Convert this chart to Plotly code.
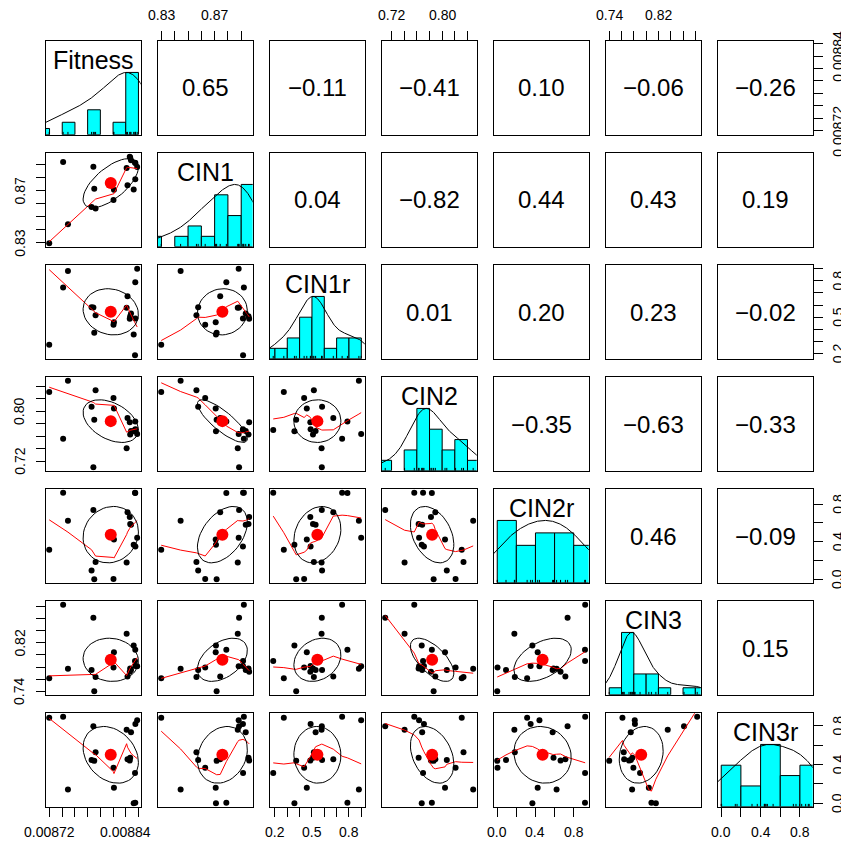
import numpy as np
import plotly.graph_objects as go

# ---------------- data ----------------
var_names = ["Fitness", "CIN1", "CIN1r", "CIN2", "CIN2r", "CIN3", "CIN3r"]

fitness = [0.0087414, 0.0087195, 0.0087490, 0.0087890, 0.0087904, 0.0087925, 0.0088207,
           0.0088214, 0.0088414, 0.0088428, 0.0088463, 0.0088470, 0.0088483, 0.0088580,
           0.0088552, 0.0088525, 0.0088550, 0.0088546, 0.0087862]
cin1 = [0.8920, 0.8298, 0.8444, 0.8884, 0.8715, 0.8563, 0.8629, 0.8708, 0.8874, 0.8742,
        0.8960, 0.8955, 0.8934, 0.8881, 0.8913, 0.8710, 0.8788, 0.8914, 0.8576]
cin1r = [0.7445, 0.2719, 0.8805, 0.5798, 0.3722, 0.5154, 0.4366, 0.4581, 0.5780, 0.6729,
         0.4867, 0.5082, 0.5297, 0.8990, 0.4890, 0.3578, 0.7874, 0.1860, 0.5820]
cin2 = [0.7559, 0.8309, 0.8490, 0.7100, 0.7865, 0.8337, 0.8212, 0.8045, 0.7406, 0.7892,
        0.7823, 0.7628, 0.7684, 0.7635, 0.7712, 0.7677, 0.7837, 0.7698, 0.8073]
cin2r = [0.920, 0.3128, 0.621, 0.736, 0.000, 0.184, 0.003, 0.4232, 0.1794, 0.713,
         0.6624, 0.5888, 0.5796, 0.4416, 0.3496, 0.368, 0.918, 0.919, 0.092]
cin3 = [0.8830, 0.7615, 0.7772, 0.8616, 0.7400, 0.7636, 0.7793, 0.8044, 0.8351, 0.7643,
        0.7722, 0.7775, 0.7750, 0.7815, 0.7818, 0.8158, 0.8086, 0.7901, 0.7752]
cin3r = [0.894, 0.885, 0.143, 0.7957, 0.438, 0.5275, 0.3665, 0.1609, 0.7599, 0.4559,
         0.441, 0.4694, 0.7331, 0.8582, 0.818, 0.000, 0.004, 0.3129, 0.447]

# correlations printed in the upper panels (row variable, column variable)
cor_text = {
    (0, 1): "0.65", (0, 2): "−0.11", (0, 3): "−0.41", (0, 4): "0.10", (0, 5): "−0.06", (0, 6): "−0.26",
    (1, 2): "0.04", (1, 3): "−0.82", (1, 4): "0.44", (1, 5): "0.43", (1, 6): "0.19",
    (2, 3): "0.01", (2, 4): "0.20", (2, 5): "0.23", (2, 6): "−0.02",
    (3, 4): "−0.35", (3, 5): "−0.63", (3, 6): "−0.33",
    (4, 5): "0.46", (4, 6): "−0.09",
    (5, 6): "0.15",
}

# axis ticks and labels per variable
tick_values = {
    0: [0.00872, 0.00874, 0.00876, 0.00878, 0.00880, 0.00882, 0.00884, 0.00886],
    1: [0.83, 0.84, 0.85, 0.86, 0.87, 0.88, 0.89, 0.90],
    2: [0.2, 0.3, 0.4, 0.5, 0.6, 0.7, 0.8, 0.9],
    3: [0.72, 0.74, 0.76, 0.78, 0.80, 0.82, 0.84],
    4: [0.0, 0.2, 0.4, 0.6, 0.8],
    5: [0.74, 0.76, 0.78, 0.80, 0.82, 0.84, 0.86, 0.88],
    6: [0.0, 0.2, 0.4, 0.6, 0.8],
}
tick_labels = {
    0: ["0.00872", "", "", "", "", "", "0.00884", ""],
    1: ["0.83", "", "", "", "0.87", "", "", ""],
    2: ["0.2", "", "", "0.5", "", "", "0.8", ""],
    3: ["0.72", "", "", "", "0.80", "", ""],
    4: ["0.0", "", "0.4", "", "0.8"],
    5: ["0.74", "", "", "", "0.82", "", "", ""],
    6: ["0.0", "", "0.4", "", "0.8"],
}

data = [np.array(v, dtype=float) for v in (fitness, cin1, cin1r, cin2, cin2r, cin3, cin3r)]
nv = len(data)

# ---------------- helpers (R-like computations) ----------------
def usr_range(x):
    lo, hi = float(np.min(x)), float(np.max(x))
    r = hi - lo
    return lo - 0.04 * r, hi + 0.04 * r


def pretty_unit(lo, hi, n=6):
    cell = (hi - lo) / n
    U = 10 ** np.floor(np.log10(cell))
    unit = U
    if 2 * U - cell < 1.5 * (cell - unit):
        unit = 2 * U
        if 5 * U - cell < 2.75 * (cell - unit):
            unit = 5 * U
            if 10 * U - cell < 1.5 * (cell - unit):
                unit = 10 * U
    return unit


def hist_counts(x):
    lo, hi = float(np.min(x)), float(np.max(x))
    nclass = int(np.ceil(np.log2(len(x)) + 1))
    unit = pretty_unit(lo, hi, nclass)
    s = np.floor(lo / unit + 1e-7)
    e = np.ceil(hi / unit - 1e-7)
    breaks = np.arange(s, e + 1) * unit
    fuzz = 1e-7 * unit
    fb = breaks + fuzz
    fb[0] = breaks[0] - fuzz
    idx = np.searchsorted(fb, x, side="left") - 1
    counts = np.bincount(idx, minlength=len(breaks) - 1)[: len(breaks) - 1]
    return breaks, counts


def density_curve(x):
    n = len(x)
    q1, q3 = np.percentile(x, [25, 75])
    bw = 1.06 * min(np.std(x, ddof=1), (q3 - q1) / 1.34) * n ** (-0.2)
    bw *= 1.2
    grid = np.linspace(x.min() - 3 * bw, x.max() + 3 * bw, 512)
    dens = np.exp(-0.5 * ((grid[:, None] - x[None, :]) / bw) ** 2).sum(axis=1)
    return grid, dens / dens.max()


def _lowest(x, y, n, xs, nleft, nright, userw, rw):
    w = np.zeros(n)
    rng = x[n - 1] - x[0]
    h = max(xs - x[nleft], x[nright] - xs)
    h9, h1 = 0.999 * h, 0.001 * h
    a = 0.0
    j = nleft
    while j < n:
        r = abs(x[j] - xs)
        if r <= h9:
            w[j] = 1.0 if r <= h1 else (1 - (r / h) ** 3) ** 3
            if userw:
                w[j] *= rw[j]
            a += w[j]
        elif x[j] > xs:
            break
        j += 1
    nrt = j - 1
    if a <= 0:
        return 0.0, False
    w[nleft:nrt + 1] /= a
    if h > 0:
        a = np.sum(w[nleft:nrt + 1] * x[nleft:nrt + 1])
        b = xs - a
        c = np.sum(w[nleft:nrt + 1] * (x[nleft:nrt + 1] - a) ** 2)
        if np.sqrt(c) > 0.001 * rng:
            b /= c
            w[nleft:nrt + 1] *= b * (x[nleft:nrt + 1] - a) + 1
    return float(np.sum(w[nleft:nrt + 1] * y[nleft:nrt + 1])), True


def lowess(x, y, f=2 / 3, nsteps=3):
    o = np.argsort(x, kind="stable")
    x = np.asarray(x, float)[o]
    y = np.asarray(y, float)[o]
    n = len(x)
    delta = 0.01 * (x[-1] - x[0])
    ns = max(2, min(n, int(f * n + 1e-7)))
    ys = np.zeros(n)
    rw = np.ones(n)
    it = 1
    while it <= nsteps + 1:
        nleft, nright, last, i = 0, ns - 1, -1, 0
        while True:
            if nright < n - 1:
                if x[i] - x[nleft] > x[nright + 1] - x[i]:
                    nleft += 1
                    nright += 1
                    continue
            val, ok = _lowest(x, y, n, x[i], nleft, nright, it > 1, rw)
            ys[i] = val if ok else y[i]
            if last < i - 1:
                denom = x[i] - x[last]
                for j in range(last + 1, i):
                    al = (x[j] - x[last]) / denom
                    ys[j] = al * ys[i] + (1 - al) * ys[last]
            last = i
            cut = x[last] + delta
            i = last + 1
            while i < n:
                if x[i] > cut:
                    break
                if x[i] == x[last]:
                    ys[i] = ys[last]
                    last = i
                i += 1
            i = max(last + 1, i - 1)
            if last >= n - 1:
                break
        res = y - ys
        sc = np.sum(np.abs(res)) / n
        if it > nsteps:
            break
        ar = np.sort(np.abs(res))
        m1 = n // 2
        cmad = 3 * (ar[m1 - 1] + ar[m1]) if n % 2 == 0 else 6 * ar[m1]
        if cmad < 1e-7 * sc:
            break
        r = np.abs(res)
        rw = np.where(r <= 0.001 * cmad, 1.0, np.where(r <= 0.999 * cmad, (1 - (r / cmad) ** 2) ** 2, 0.0))
        it += 1
    return x, ys


def ellipse_xy(xm, ym, xs, ys, r, segments=51):
    ang = np.arange(segments + 1) * 2 * np.pi / segments
    circ = np.column_stack([np.cos(ang), np.sin(ang)])
    th = (np.sign(r) if abs(r) > 0 else 1.0) / np.sqrt(2)
    shape = np.diag([np.sqrt(1 + r), np.sqrt(1 - r)]) @ np.array([[th, th], [-th, th]])
    e = circ @ shape
    return e[:, 0] * xs + xm, e[:, 1] * ys + ym


# ---------------- layout geometry ----------------
# the page body has an 8px margin, so the figure is drawn 8px in from the window corner
OFF = 8
FW, FH = 849 - OFF, 843 - OFF
L0, T0 = 45.7 - OFF, 41.3 - OFF
PW, PH, PITCH_X, PITCH_Y = 95.0, 93.4, 112.0, 112.0
FONT = "Liberation Sans, Arial, Helvetica, sans-serif"
TICK_FONT = dict(family=FONT, size=14, color="black")


def domains(i, j):
    left = L0 + j * PITCH_X
    top = T0 + i * PITCH_Y
    return [left / FW, (left + PW) / FW], [1 - (top + PH) / FH, 1 - top / FH]


usr = [usr_range(d) for d in data]

fig = go.Figure()
layout = dict(width=FW, height=FH, margin=dict(l=0, r=0, t=0, b=0, autoexpand=False),
              template="none",
              paper_bgcolor="white", plot_bgcolor="white", showlegend=False,
              font=dict(family=FONT, color="black"), annotations=[])
ann = layout["annotations"]

for i in range(nv):
    for j in range(nv):
        k = i * nv + j + 1
        xa = "xaxis" if k == 1 else f"xaxis{k}"
        ya = "yaxis" if k == 1 else f"yaxis{k}"
        xr = "x" if k == 1 else f"x{k}"
        yr = "y" if k == 1 else f"y{k}"
        xd, yd = domains(i, j)

        base = dict(showline=True, mirror=True, linecolor="black", linewidth=1,
                    showgrid=False, zeroline=False, ticks="", showticklabels=False,
                    automargin=False, fixedrange=True)
        xax = dict(domain=xd, range=list(usr[j]), anchor=yr, **base)
        yax = dict(domain=yd, range=list(usr[i]), anchor=xr, **base)
        tk = dict(ticks="outside", ticklen=9, tickwidth=1, tickcolor="black")

        if i == nv - 1 and j % 2 == 0:
            xax.update(side="bottom", tickvals=tick_values[j], **tk)
            for v, t in zip(tick_values[j], tick_labels[j]):
                if t:
                    ann.append(dict(text=t, x=v, xref=xr, y=yd[0], yref="paper", yshift=-25,
                                    xanchor="center", yanchor="middle", showarrow=False,
                                    font=TICK_FONT))
        if i == 0 and j % 2 == 1:
            xax.update(side="top", tickvals=tick_values[j], **tk)
            for v, t in zip(tick_values[j], tick_labels[j]):
                if t:
                    ann.append(dict(text=t, x=v, xref=xr, y=yd[1], yref="paper", yshift=26,
                                    xanchor="center", yanchor="middle", showarrow=False,
                                    font=TICK_FONT))
        if j == 0 and i % 2 == 1:
            yax.update(side="left", tickvals=tick_values[i], **tk)
            for v, t in zip(tick_values[i], tick_labels[i]):
                if t:
                    ann.append(dict(text=t, y=v, yref=yr, x=xd[0], xref="paper", xshift=-26,
                                    xanchor="center", yanchor="middle", showarrow=False,
                                    textangle=-90, font=TICK_FONT))
        if j == nv - 1 and i % 2 == 0:
            yax.update(side="right", tickvals=tick_values[i], **tk)
            for v, t in zip(tick_values[i], tick_labels[i]):
                if t:
                    ann.append(dict(text=t, y=v, yref=yr, x=xd[1], xref="paper", xshift=25,
                                    xanchor="center", yanchor="middle", showarrow=False,
                                    textangle=-90, font=TICK_FONT))
        layout[xa] = xax
        layout[ya] = yax

        cx = (xd[0] + xd[1]) / 2
        cy = (yd[0] + yd[1]) / 2
        if i == j:
            x = data[i]
            lo, hi = usr[i]
            scale = (hi - lo) / 1.5
            breaks, counts = hist_counts(x)
            hts = counts / counts.max()
            keep = counts > 0
            centers = (breaks[:-1] + breaks[1:]) / 2
            widths = np.diff(breaks)
            fig.add_trace(go.Bar(x=centers[keep], y=hts[keep] * scale, base=lo,
                                 width=widths[keep], marker=dict(color="cyan",
                                 line=dict(color="black", width=1)),
                                 xaxis=xr, yaxis=yr, hoverinfo="skip"))
            gx, gy = density_curve(x)
            fig.add_trace(go.Scatter(x=gx, y=lo + gy * scale, mode="lines",
                                     line=dict(color="black", width=1),
                                     xaxis=xr, yaxis=yr, hoverinfo="skip"))
            rx, ry = [], []
            for v in x:
                rx += [v, v, None]
                ry += [lo, lo + 0.03 * (hi - lo), None]
            fig.add_trace(go.Scatter(x=rx, y=ry, mode="lines",
                                     line=dict(color="black", width=1),
                                     xaxis=xr, yaxis=yr, hoverinfo="skip"))
            top_px = T0 + i * PITCH_Y
            ann.append(dict(
                text=var_names[i], x=cx, y=1 - (top_px + 19) / FH, xref="paper", yref="paper",
                xanchor="center", yanchor="middle", showarrow=False,
                font=dict(family=FONT, size=25, color="black")))
        elif i < j:
            # empty panel: invisible anchor so the frame and axes are drawn
            fig.add_trace(go.Scatter(x=[np.mean(usr[j])], y=[np.mean(usr[i])], mode="markers",
                                     marker=dict(opacity=0, size=1), xaxis=xr, yaxis=yr,
                                     hoverinfo="skip"))
            ann.append(dict(
                text=cor_text[(i, j)], x=cx, y=cy, xref="paper", yref="paper",
                xanchor="center", yanchor="middle", showarrow=False,
                font=dict(family=FONT, size=24, color="black")))
        else:
            x, y = data[j], data[i]
            fig.add_trace(go.Scatter(x=x, y=y, mode="markers",
                                     marker=dict(color="black", size=6),
                                     xaxis=xr, yaxis=yr, hoverinfo="skip"))
            lx, ly = lowess(x, y)
            fig.add_trace(go.Scatter(x=lx, y=ly, mode="lines",
                                     line=dict(color="red", width=1),
                                     xaxis=xr, yaxis=yr, hoverinfo="skip"))
            r = float(cor_text[(j, i)].replace("−", "-"))
            ex, ey = ellipse_xy(x.mean(), y.mean(), x.std(ddof=1), y.std(ddof=1), r)
            fig.add_trace(go.Scatter(x=ex, y=ey, mode="lines",
                                     line=dict(color="black", width=1),
                                     xaxis=xr, yaxis=yr, hoverinfo="skip"))
            fig.add_trace(go.Scatter(x=[x.mean()], y=[y.mean()], mode="markers",
                                     marker=dict(color="red", size=12),
                                     xaxis=xr, yaxis=yr, hoverinfo="skip"))

fig.update_layout(**layout)
fig.write_html("out.html")
